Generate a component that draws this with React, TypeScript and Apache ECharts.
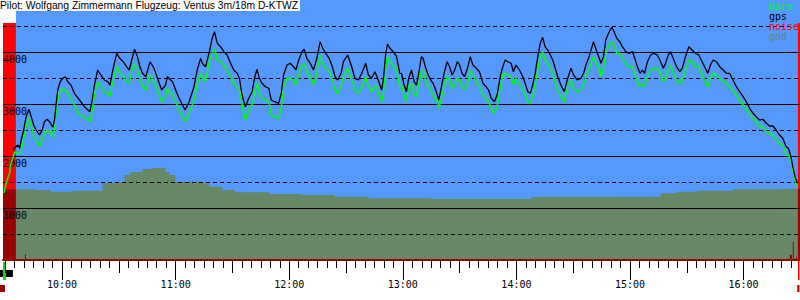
import React, { useEffect, useRef } from "react";
import * as echarts from "echarts";

const TITLE = "Pilot: Wolfgang Zimmermann Flugzeug: Ventus 3m/18m D-KTWZ";
const legendNames = ["baro", "gps", "noise", "gnd"];

// minutes since midnight
const times = [
  569.3, 570.5, 572.3, 573.0, 574.1, 575.0, 576.7, 577.6, 578.4, 579.7,
  581.0, 582.5, 583.7, 585.0, 586.3, 588.1, 589.5, 590.7, 592.1, 593.4,
  595.1, 596.0, 596.8, 597.7, 599.0, 600.4, 601.8, 603.0, 604.7, 606.5,
  609.2, 611.8, 614.7, 615.8, 617.1, 618.8, 620.5, 622.3, 624.1, 625.3,
  626.3, 627.6, 628.9, 630.5, 632.3, 634.1, 635.5, 636.8, 638.3, 639.8,
  641.1, 642.5, 644.2, 646.5, 648.6, 650.4, 652.6, 654.7, 655.6, 658.3,
  660.0, 661.8, 665.0, 667.1, 669.7, 671.4, 673.2, 674.1,
  675.8, 677.6, 679.3, 680.5, 682.0, 683.7, 685.5, 687.2, 689.0, 690.7,
  692.5, 693.7, 695.1, 696.8, 698.6, 700.4, 701.8, 703.0, 704.2, 705.6,
  707.4, 709.2, 710.5, 712.3, 714.4, 715.8, 717.0, 718.8, 720.5, 722.3,
  723.5, 725.0, 726.7, 727.9, 729.3, 731.1, 732.8, 734.6, 736.3, 737.7,
  739.3, 741.1, 742.8, 744.2, 745.6, 747.4, 748.6, 750.9, 753.0, 754.7,
  756.5, 758.3, 760.4, 761.8, 763.5, 765.3, 767.0, 768.8, 769.7, 770.9,
  771.9, 773.2, 774.9, 776.7, 778.4, 779.3,
  780.7, 781.9, 783.1, 784.6, 786.0, 787.2, 788.4, 789.8, 790.7, 791.9,
  793.4, 794.7, 796.0, 797.7, 799.0, 800.4, 801.8, 803.4, 804.7, 806.0,
  807.4, 808.8, 810.0, 811.3, 812.6, 814.4, 815.6, 817.0, 818.8, 820.5,
  822.3, 824.0, 825.3, 826.7, 828.4, 829.8, 831.6, 832.8, 834.1, 835.5,
  837.2, 838.4, 839.8, 841.6, 843.4, 844.6, 846.0, 847.4, 848.6, 849.9,
  851.3, 852.6, 853.9, 855.1, 856.5, 857.9, 859.2, 860.5, 861.8, 863.5,
  865.3, 867.1, 868.8, 870.2, 872.0, 874.1, 875.5, 876.7, 878.4, 880.7,
  882.5, 884.1, 884.6,
  886.0, 887.2, 889.0, 890.4, 891.6, 893.0, 894.6, 896.0, 897.7, 899.5,
  901.3, 902.5, 903.9, 905.3, 906.5, 907.7, 909.2, 910.9, 912.6, 914.4,
  915.8, 917.6, 918.8, 920.2, 921.4, 922.8, 924.6, 926.3, 927.6, 929.3,
  931.1, 932.8, 934.6, 936.3, 938.1, 939.8, 941.1, 942.5, 943.9, 945.6,
  947.4, 949.2, 950.9, 952.6, 954.4, 956.2, 957.9, 959.7, 961.4, 963.2,
  965.0, 966.7, 968.4, 970.2, 972.0, 973.7, 975.5, 977.2, 979.0, 980.7,
  982.5, 983.7, 985.0, 986.0, 987.2, 988.4,
];

const gpsAlt = [
  null, null, null, null, 2115, 2160, 2212, 2148, 2308, 2500,
  2756, 2898, 2756, 2596, 2500, 2404, 2500, 2660, 2706, 2660,
  2552, 2692, 2981, 3269, 3429, 3494, 3525, 3429, 3365, 3206,
  3077, 2948, 2852, 3044, 3365, 3654, 3558, 3462, 3429, 3365,
  3558, 3783, 3975, 3879, 3813, 3717, 3654, 3846, 4052, 3910,
  3717, 3590, 3525, 3813, 3687, 3494, 3269, 3365, 3525, 3429,
  3269, 3110, 2885, 3044, 3333, 3654, 3879, 3783,
  3717, 3975, 4263, 4390, 4167, 4102, 4006, 3942, 3783, 3654,
  3590, 3494, 3173, 2948, 3110, 3237, 3525, 3667, 3494, 3398,
  3333, 3302, 3077, 3044, 3013, 3206, 3558, 3750, 3783, 3717,
  3654, 3846, 4006, 4052, 3879, 3783, 3654, 3879, 4198, 4071,
  3975, 3879, 3717, 3525, 3462, 3590, 3813, 3942, 3717, 3494,
  3462, 3590, 3783, 3558, 3494, 3621, 3462, 3269, 3462, 3942,
  4154, 4071, 4006, 3910, 3590, 3590,
  3365, 3237, 3494, 3654, 3429, 3365, 3590, 3910, 3879, 3717,
  3558, 3462, 3398, 3237, 3077, 3333, 3590, 3813, 3717, 3558,
  3654, 3813, 3750, 3590, 3525, 3717, 3910, 3750, 3687, 3621,
  3398, 3333, 3269, 3110, 3044, 3173, 3558, 3717, 3846, 3813,
  3783, 3621, 3750, 3654, 3525, 3398, 3237, 3206, 3365, 3590,
  3910, 4167, 4283, 4102, 4038, 3942, 3846, 3687, 3525, 3365,
  3237, 3494, 3687, 3558, 3462, 3494, 3590, 3750, 3910, 4198,
  4006, 3846, 3783,
  3910, 4231, 4390, 4475, 4390, 4263, 4198, 4102, 4006, 3975,
  4006, 3879, 3717, 3590, 3654, 3590, 3813, 3942, 3975, 3942,
  3846, 3687, 3783, 3942, 4006, 3879, 3717, 3621, 3687, 3910,
  4102, 4038, 3975, 3942, 3813, 3687, 3590, 3750, 3846, 3813,
  3717, 3654, 3590, 3590, 3462, 3333, 3237, 3140, 3044, 2917,
  2821, 2756, 2692, 2706, 2629, 2577, 2577, 2500, 2404, 2340,
  2179, 2148, 1987, 1794, 1602, 1475,
];

const baroAlt = [
  1288, 1481, 1673, 1865, 1981, 2077, 2058, 2058, 2083, 2308,
  2563, 2725, 2563, 2404, 2308, 2192, 2308, 2437, 2500, 2467,
  2360, 2500, 2821, 3077, 3237, 3302, 3269, 3206, 3110, 2981,
  2788, 2756, 2660, 2852, 3173, 3429, 3365, 3237, 3206, 3140,
  3333, 3558, 3717, 3590, 3525, 3429, 3398, 3621, 3783, 3654,
  3494, 3333, 3269, 3558, 3429, 3269, 3044, 3140, 3302, 3173,
  3044, 2885, 2660, 2821, 3077, 3365, 3590, 3494,
  3429, 3783, 3975, 4071, 3846, 3813, 3750, 3654, 3525, 3398,
  3333, 3269, 2981, 2692, 2885, 2981, 3237, 3398, 3206, 3110,
  3077, 3044, 2788, 2756, 2725, 2948, 3333, 3494, 3494, 3462,
  3365, 3558, 3750, 3783, 3621, 3525, 3365, 3590, 3942, 3783,
  3687, 3621, 3462, 3269, 3206, 3333, 3525, 3687, 3462, 3269,
  3206, 3333, 3525, 3333, 3237, 3365, 3237, 3044, 3206, 3654,
  3910, 3813, 3750, 3654, 3333, 3365,
  3173, 3044, 3333, 3398, 3173, 3140, 3398, 3621, 3654, 3462,
  3365, 3269, 3173, 3077, 2917, 3110, 3365, 3525, 3462, 3302,
  3365, 3494, 3462, 3333, 3269, 3429, 3654, 3558, 3429, 3333,
  3173, 3110, 3044, 2917, 2821, 2948, 3333, 3558, 3590, 3558,
  3525, 3365, 3494, 3398, 3269, 3173, 3044, 3013, 3173, 3365,
  3654, 3910, 4006, 3846, 3783, 3687, 3590, 3429, 3269, 3140,
  3044, 3333, 3462, 3302, 3237, 3269, 3365, 3525, 3687, 3910,
  3750, 3654, 3525,
  3687, 3975, 4135, 4198, 4102, 3975, 3975, 3879, 3783, 3717,
  3717, 3590, 3429, 3333, 3398, 3333, 3525, 3654, 3687, 3687,
  3621, 3429, 3494, 3654, 3750, 3621, 3462, 3398, 3462, 3654,
  3846, 3813, 3717, 3717, 3558, 3429, 3333, 3494, 3590, 3558,
  3494, 3429, 3398, 3333, 3269, 3173, 3077, 2981, 2885, 2821,
  2725, 2660, 2563, 2563, 2467, 2437, 2404, 2308, 2244, 2212,
  2019, 2019, 1923, 1731, 1538, 1410,
];

const gndTimes = [
  568.8, 586.2, 594.1, 605.6, 621.4, 624.0, 633.0, 636.2, 642.5, 647.7,
  653.0, 654.6, 656.7, 659.8, 674.1, 677.7, 684.6, 691.4, 709.3, 726.7,
  744.1, 762.0, 795.1, 847.7, 874.0, 916.2, 925.1, 935.6, 954.6, 972.5, 989.8,
];
const gndAlt = [
  1360, 1346, 1313, 1333, 1475, 1487, 1635, 1692, 1750, 1769,
  1775, 1692, 1635, 1506, 1475, 1410, 1346, 1302, 1269, 1250,
  1217, 1187, 1173, 1212, 1217, 1283, 1313, 1333, 1360, 1365, 1365,
];

const noiseTimes = [568.8, 575.6, 580.4, 580.9, 984.4, 985.5, 986.0, 986.5, 987.7, 988.2, 988.7, 989.8];
const noiseAlt = [4558, 0, 115, 0, 100, 0, 350, 0, 60, 0, 4558, 4558];

const hourTicks = [600, 660, 720, 780, 840, 900, 960];
const halfHourTicks = [570, 630, 690, 750, 810, 870, 930];
const fiveMinTicks: number[] = [];
for (let m = 570; m <= 985; m += 5) fiveMinTicks.push(m);

const XMIN = 568.8;
const XMAX = 989.8;
const YMAX = 5000;

const SKY = "#5599ff";
const GND = "#668866";
const DARKRED = "#990000";
const RED = "#ff0000";
const GREEN = "#00ff00";
const colorOf: Record<string, string> = { baro: GREEN, gps: "#000000", noise: RED, gnd: GND };

const MONO = "'DejaVu Sans Mono', monospace";

function gndAt(t: number): number {
  let v = gndAlt[0];
  for (let i = 0; i < gndTimes.length; i++) if (gndTimes[i] <= t) v = gndAlt[i];
  return v;
}

function fmtTime(v: number): string {
  const h = Math.floor(v / 60);
  const m = Math.round(v - h * 60);
  return h + ":" + (m < 10 ? "0" + m : String(m));
}

export default function App() {
  const ref = useRef<HTMLDivElement>(null);
  useEffect(() => {
    if (!ref.current) return;
    const chart = echarts.init(ref.current, undefined, { renderer: "svg" });
    const zip = (a: number[], b: (number | null)[]) => a.map((t, i) => [t, b[i]]);
    const noiseGnd = noiseAlt.map((v, i) => Math.min(v, gndAt(noiseTimes[i])));
    const tickAxis = (ticks: number[], len: number) => ({
      type: "value",
      gridIndex: 0,
      min: XMIN,
      max: XMAX,
      position: "bottom",
      z: 3,
      axisLine: { show: false },
      axisTick: { show: true, customValues: ticks, length: len, lineStyle: { color: "#000", width: 1 } },
      axisLabel: { show: false },
      splitLine: { show: false },
    });
    chart.setOption({
      animation: false,
      title: {
        text: TITLE,
        left: 0,
        top: 0,
        padding: [0, 2, 0, 0],
        backgroundColor: "#ffffff",
        textStyle: { fontFamily: "'Liberation Sans', Arial, sans-serif", fontSize: 10.3, fontWeight: "normal", color: "#000", lineHeight: 11 },
      },
      legend: {
        orient: "vertical",
        left: 764,
        top: 1,
        padding: 0,
        itemGap: 0,
        itemWidth: 0,
        itemHeight: 10,
        icon: "none",
        selectedMode: false,
        data: legendNames.map((n) => ({ name: n, textStyle: { color: colorOf[n] } })),
        textStyle: { fontFamily: MONO, fontSize: 10, lineHeight: 10 },
      },
      grid: [
        { left: 0, top: 0, width: 800, height: 260, show: true, backgroundColor: SKY, borderWidth: 0 },
        { left: 0, top: 261, width: 800, height: 39, show: false },
      ],
      xAxis: [
        {
          type: "value",
          gridIndex: 0,
          min: XMIN,
          max: XMAX,
          position: "bottom",
          z: 3,
          axisLine: { show: true, lineStyle: { color: DARKRED, width: 2 } },
          axisTick: { show: true, customValues: hourTicks, length: 20, lineStyle: { color: "#000", width: 1 } },
          axisLabel: { customValues: hourTicks, formatter: (v: number) => fmtTime(v), margin: 19, color: "#000", fontFamily: MONO, fontSize: 10 },
          splitLine: { show: false },
        },
        tickAxis(halfHourTicks, 13),
        tickAxis(fiveMinTicks, 8),
        { type: "value", gridIndex: 1, min: XMIN, max: XMAX, show: false },
      ],
      yAxis: [
        {
          type: "value",
          gridIndex: 0,
          min: 0,
          max: YMAX,
          interval: 1000,
          z: 3,
          axisLine: { show: false },
          axisTick: { show: false },
          axisLabel: {
            inside: true,
            margin: 0,
            align: "left",
            verticalAlign: "top",
            padding: [2, 0, 0, 0],
            color: "#000",
            fontFamily: MONO,
            fontSize: 10,
            formatter: (v: number) => (v > 0 && v < YMAX ? String(v) : ""),
          },
          splitLine: { show: true, showMinLine: false, showMaxLine: false, lineStyle: { color: "#000", width: 1 } },
          minorTick: { show: false, splitNumber: 2 },
          minorSplitLine: { show: true, lineStyle: { color: "#000", width: 1, type: [4, 3] } },
        },
        { type: "value", gridIndex: 1, min: 0, max: 39, inverse: true, show: false },
      ],
      series: [
        {
          name: "noise",
          type: "line",
          step: "end",
          xAxisIndex: 0,
          yAxisIndex: 0,
          data: zip(noiseTimes, noiseAlt),
          symbol: "none",
          lineStyle: { width: 0 },
          itemStyle: { color: RED },
          areaStyle: { color: RED, opacity: 1 },
          z: 1,
          markArea: {
            silent: true,
            itemStyle: { color: "#ffffff" },
            label: { show: false },
            data: [[{ xAxis: noiseTimes[0], yAxis: noiseAlt[0] }, { xAxis: noiseTimes[1], yAxis: YMAX }]],
          },
        },
        {
          name: "gnd",
          type: "line",
          step: "end",
          data: zip(gndTimes, gndAlt),
          symbol: "none",
          lineStyle: { width: 0 },
          itemStyle: { color: GND },
          areaStyle: { color: GND, opacity: 1 },
          z: 1,
        },
        {
          name: "noiseGnd",
          type: "line",
          step: "end",
          data: zip(noiseTimes, noiseGnd),
          symbol: "none",
          lineStyle: { width: 0 },
          itemStyle: { color: DARKRED },
          areaStyle: { color: DARKRED, opacity: 1 },
          z: 1,
        },
        {
          name: "baro",
          type: "line",
          data: zip(times, baroAlt),
          symbol: "none",
          lineStyle: { color: GREEN, width: 1.5 },
          itemStyle: { color: GREEN },
          z: 5,
        },
        {
          name: "gps",
          type: "line",
          data: zip(times, gpsAlt),
          symbol: "none",
          connectNulls: false,
          lineStyle: { color: "#000", width: 1.3 },
          itemStyle: { color: "#000" },
          z: 6,
        },
        {
          name: "phase",
          type: "line",
          xAxisIndex: 3,
          yAxisIndex: 1,
          data: [],
          symbol: "none",
          markArea: {
            silent: true,
            label: { show: false },
            data: [
              [{ xAxis: 568.8, yAxis: 9, itemStyle: { color: "#000" } }, { xAxis: 575.6, yAxis: 16 }],
              [{ xAxis: 570.4, yAxis: 1, itemStyle: { color: "#22cc22" } }, { xAxis: 572.0, yAxis: 19 }],
              [{ xAxis: 568.8, yAxis: 24, itemStyle: { color: DARKRED } }, { xAxis: 571.4, yAxis: 31 }],
              [{ xAxis: 988.7, yAxis: 0, itemStyle: { color: RED } }, { xAxis: 989.5, yAxis: 19 }],
              [{ xAxis: 988.4, yAxis: 24, itemStyle: { color: DARKRED } }, { xAxis: 989.5, yAxis: 31 }],
            ],
          },
        },
      ],
    });
    return () => chart.dispose();
  }, []);
  return <div ref={ref} style={{ position: "absolute", left: 0, top: 0, width: 800, height: 300 }} />;
}
